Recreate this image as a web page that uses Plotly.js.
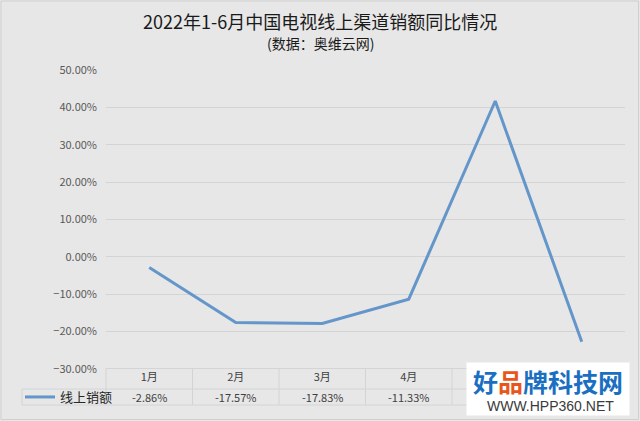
<!DOCTYPE html>
<html><head><meta charset="utf-8">
<script src="https://cdn.plot.ly/plotly-3.0.1.min.js"></script>
<style>html,body{margin:0;padding:0;background:#e7e7e7;}#chart{width:640px;height:421px;}</style>
</head><body><div id="chart"></div>
<script>
const months = ['1月','2月','3月','4月','5月','6月'];
const seriesName = '线上销额';
const values = [-0.0286, -0.1757, -0.1783, -0.1133, 0.417, -0.227];
const valueLabels = ['-2.86%','-17.57%','-17.83%','-11.33%','41.70%','-22.70%'];
const titleText = '2022年1-6月中国电视线上渠道销额同比情况';
const subtitleText = '(数据：奥维云网)';

const FONT = '"Noto Sans CJK SC", "Microsoft YaHei", sans-serif';
const W = 640, H = 421, ML = 106, MR = 15, MT = 70, MB = 52;
const PW = W - ML - MR, PH = H - MT - MB;
const px2x = p => (p - ML) / PW;
const px2y = p => 1 - (p - MT) / PH;
const gridC = '#d4d4d4';

const shapes = [];
const n = months.length;
shapes.push({type:'line', xref:'paper', yref:'paper', x0:0, x1:1, y0:px2y(368.5), y1:px2y(368.5), line:{color:gridC,width:1}});
[389, 405].forEach(p => shapes.push({type:'line', xref:'paper', yref:'paper', x0:px2x(22), x1:1, y0:px2y(p), y1:px2y(p), line:{color:gridC,width:1}}));
for (let i = 0; i <= n; i++) {
  shapes.push({type:'line', xref:'paper', yref:'paper', x0:i/n, x1:i/n, y0:px2y(368.5), y1:px2y(405), line:{color:gridC,width:1}});
}
shapes.push({type:'line', xref:'paper', yref:'paper', x0:px2x(22), x1:px2x(22), y0:px2y(389), y1:px2y(405), line:{color:gridC,width:1}});
shapes.push({type:'rect', xref:'paper', yref:'paper', x0:px2x(1), x1:px2x(638.5), y0:px2y(1), y1:px2y(419.5), line:{color:'#cfcfcf',width:1}});

const annotations = [];
const ann = o => annotations.push(Object.assign({xref:'paper', yref:'paper', showarrow:false, xanchor:'center', yanchor:'middle'}, o));
ann({x:px2x(320), y:px2y(21), text:titleText, font:{family:FONT,size:18,color:'#1a1a1a'}});
ann({x:px2x(320), y:px2y(43), text:subtitleText, font:{family:FONT,size:14,color:'#1a1a1a'}});
valueLabels.forEach((t, i) => ann({xref:'x', x:months[i], y:px2y(397), text:t, font:{family:FONT,size:11,color:'#404040'}}));
// watermark
ann({x:px2x(548), y:px2y(389), width:162, height:52, valign:'top', bgcolor:'#ffffff', borderpad:0,
  text:'<b><span style="color:#1b6fc2">好</span><span style="color:#e8561c">品</span><span style="color:#1b6fc2">牌科技网</span></b>',
  font:{family:FONT,size:25,color:'#1b6fc2'}});
ann({x:px2x(550), y:px2y(406), text:'WWW.HPP360.NET', font:{family:'Liberation Sans, Arial, sans-serif',size:14,color:'#3a3a3a'}});

const data = [{
  type:'scatter', mode:'lines', x:months, y:values, name:seriesName,
  line:{color:'#6596c9', width:3}
}];

const layout = {
  width:W, height:H,
  margin:{l:ML, r:MR, t:MT, b:MB, autoexpand:false},
  paper_bgcolor:'#e7e7e7', plot_bgcolor:'#e7e7e7',
  font:{family:FONT, size:11, color:'#595959'},
  xaxis:{type:'category', range:[-0.5, n-0.5], showgrid:false, zeroline:false, showline:false, ticks:'',
         tickfont:{family:FONT,size:11,color:'#404040'}, ticklabelstandoff:0, automargin:false},
  yaxis:{range:[-0.3, 0.5], dtick:0.1, tick0:0, tickformat:'.2%', gridcolor:gridC, gridwidth:1,
         zeroline:false, showline:false, ticks:'', ticklabelstandoff:8, automargin:false,
         tickfont:{family:FONT,size:11,color:'#595959'}},
  showlegend:true,
  legend:{x:px2x(20), y:px2y(382), xanchor:'left', yanchor:'top', bgcolor:'rgba(0,0,0,0)',
          font:{family:FONT,size:13,color:'#262626'}, itemwidth:30, tracegroupgap:0},
  shapes, annotations
};
Plotly.newPlot('chart', data, layout, {displayModeBar:false, staticPlot:true});
</script></body></html>
